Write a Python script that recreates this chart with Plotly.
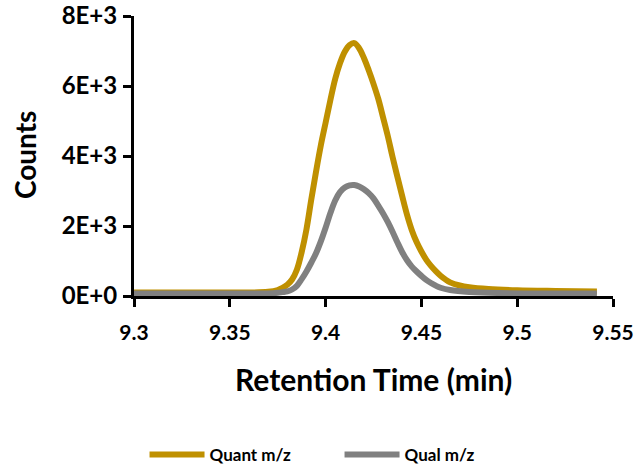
import plotly.graph_objects as go

# Retention time (min) and counts
quant_rt = [9.3000, 9.3300, 9.3600, 9.3700,
            9.3750, 9.3775, 9.3800, 9.3825, 9.3850, 9.3875, 9.3900, 9.3925, 9.3950,
            9.3975, 9.4000, 9.4025, 9.4050, 9.4075, 9.4100, 9.4125, 9.4150, 9.4175,
            9.4200, 9.4225, 9.4250, 9.4275, 9.4300, 9.4325, 9.4350, 9.4375, 9.4400,
            9.4425, 9.4450, 9.4475, 9.4500, 9.4525, 9.4550, 9.4575, 9.4600, 9.4625,
            9.4650, 9.4700, 9.4750, 9.4850, 9.5000, 9.5200, 9.5416]
quant_counts = [100, 100, 100, 120,
                170, 230, 320, 470, 750, 1250, 1900, 2750, 3550,
                4300, 4950, 5600, 6200, 6650, 6980, 7170, 7225, 7080,
                6800, 6450, 6060, 5630, 5100, 4560, 3960, 3400, 2850,
                2320, 1880, 1540, 1270, 1040, 860, 710, 580, 475,
                390, 300, 250, 200, 165, 145, 130]

qual_rt = [9.3000, 9.3300, 9.3650, 9.3725,
           9.3750, 9.3775, 9.3800, 9.3825, 9.3850, 9.3875, 9.3900, 9.3925, 9.3950,
           9.3975, 9.4000, 9.4025, 9.4050, 9.4075, 9.4100, 9.4125, 9.4150, 9.4175,
           9.4200, 9.4225, 9.4250, 9.4275, 9.4300, 9.4325, 9.4350, 9.4375, 9.4400,
           9.4425, 9.4450, 9.4475, 9.4500, 9.4525, 9.4550, 9.4575, 9.4600, 9.4650,
           9.4750, 9.4900, 9.5416]
qual_counts = [70, 70, 70, 80,
               90, 110, 130, 185, 290, 480, 700, 950, 1220,
               1560, 1950, 2370, 2730, 2970, 3100, 3160, 3170, 3130,
               3050, 2940, 2790, 2580, 2360, 2110, 1830, 1530, 1250,
               1020, 840, 700, 575, 460, 370, 295, 235, 170,
               115, 85, 70]

x_ticks = [9.3, 9.35, 9.4, 9.45, 9.5, 9.55]
x_tick_text = ["9.3", "9.35", "9.4", "9.45", "9.5", "9.55"]
y_ticks = [0, 2000, 4000, 6000, 8000]
y_tick_text = ["0E+0", "2E+3", "4E+3", "6E+3", "8E+3"]

GOLD = "#BF9000"
GRAY = "#808080"
FONT = "Lato"

W, H = 643, 469
L, T, R, B = 134, 16, 30, 173
PW, PH = W - L - R, H - T - B   # 479 x 280

fig = go.Figure()
fig.add_trace(go.Scatter(x=quant_rt, y=quant_counts, mode="lines", name="Quant m/z",
                         line=dict(color=GOLD, width=6, shape="spline", smoothing=1.0)))
fig.add_trace(go.Scatter(x=qual_rt, y=qual_counts, mode="lines", name="Qual m/z",
                         line=dict(color=GRAY, width=6, shape="spline", smoothing=1.0)))

fig.update_layout(
    width=W, height=H,
    margin=dict(l=L, r=R, t=T, b=B, autoexpand=False),
    plot_bgcolor="white", paper_bgcolor="white",
    font=dict(family=FONT, color="black"),
    showlegend=True,
    legend=dict(orientation="h", xref="paper", x=0.022, xanchor="left",
                yref="container", y=1 - 455 / H, yanchor="middle",
                font=dict(family=FONT, size=17, color="black", weight="bold"),
                itemwidth=55, entrywidth=125, entrywidthmode="pixels",
                traceorder="normal", bgcolor="rgba(0,0,0,0)"),
    xaxis=dict(range=[9.3, 9.55], tickvals=x_ticks, ticktext=x_tick_text, automargin=False,
               showgrid=False, zeroline=False, showline=True, linecolor="black", linewidth=3,
               ticks="outside", ticklen=8, tickwidth=3, tickcolor="black",
               ticklabelstandoff=8, ticklabeloverflow="allow",
               tickfont=dict(family=FONT, size=21, color="black", weight="bold")),
    yaxis=dict(range=[0, 8000], tickvals=y_ticks, ticktext=y_tick_text, automargin=False,
               showgrid=False, zeroline=False, showline=True, linecolor="black", linewidth=3,
               ticks="outside", ticklen=8, tickwidth=3, tickcolor="black",
               ticklabelstandoff=1, ticklabeloverflow="allow",
               tickfont=dict(family=FONT, size=24, color="black", weight="bold")),
    annotations=[
        dict(text="Retention Time (min)", xref="paper", yref="paper",
             x=(373 - L) / PW, y=(296 - 379) / PH, xanchor="center", yanchor="middle",
             showarrow=False, font=dict(family=FONT, size=30, color="black", weight="bold")),
        dict(text="Counts", xref="paper", yref="paper", textangle=-90,
             x=(25 - L) / PW, y=(296 - 155) / PH, xanchor="center", yanchor="middle",
             showarrow=False, font=dict(family=FONT, size=28, color="black", weight="bold")),
    ],
)

# remove the default 8px page margin so the 643x469 figure fills the window exactly
fig.write_html("out.html", config={"displayModeBar": False},
               post_script="document.body.style.margin='0px';")
